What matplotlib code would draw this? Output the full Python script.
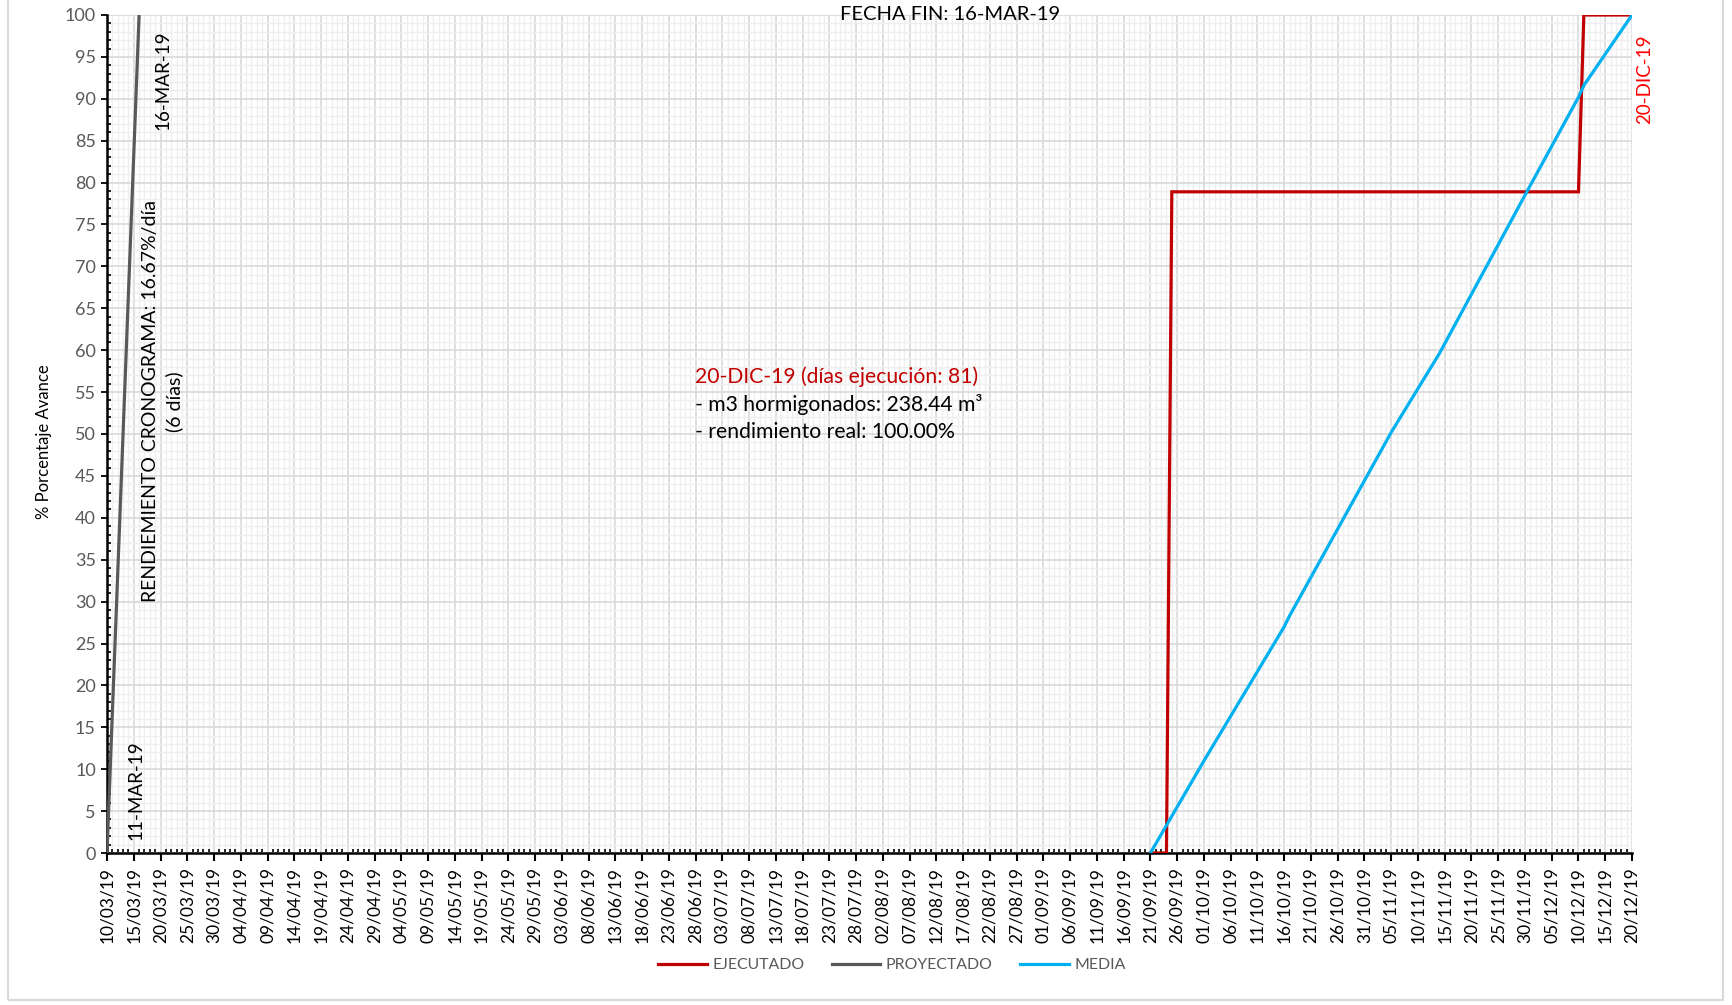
import matplotlib
matplotlib.use("Agg")
import matplotlib.pyplot as plt
import matplotlib.dates as mdates
from matplotlib.patches import Rectangle
from matplotlib.ticker import MultipleLocator
import numpy as np
import datetime as dt

plt.rcParams['font.family'] = ['Lato', 'DejaVu Sans']

# ---- data ----
ejecutado_dates = ['2019-09-21', '2019-09-24', '2019-09-25', '2019-12-10', '2019-12-11', '2019-12-20']
ejecutado_vals = [0, 0, 78.9, 78.9, 100, 100]

proyectado_dates = ['2019-03-10', '2019-03-11', '2019-03-12', '2019-03-13', '2019-03-14', '2019-03-15', '2019-03-16']
proyectado_vals = [0, 16.67, 33.33, 50.0, 66.67, 83.33, 100.0]

media_dates = ['2019-09-21', '2019-10-01', '2019-10-16', '2019-10-17', '2019-11-05', '2019-11-14',
               '2019-11-30', '2019-12-10', '2019-12-11', '2019-12-20']
media_vals = [0, 11.0, 27.0, 28.3, 50.2, 59.6, 78.5, 90.2, 91.6, 100]

start_date = '2019-03-10'
end_date = '2019-12-20'

series_names = ['EJECUTADO', 'PROYECTADO', 'MEDIA']
series_colors = ['#c00000', '#595959', '#00b0f0']


def d(s):
    return mdates.date2num(dt.datetime.strptime(s, '%Y-%m-%d'))


fig = plt.figure(figsize=(17.32, 10.05), dpi=100)
ax = fig.add_axes([107 / 1732, 1 - 853 / 1005, (1632 - 107) / 1732, (853 - 15) / 1005])

# outer border
fig.patches.append(Rectangle((8 / 1732, 5 / 1005), (1723 - 8) / 1732, 1.2, transform=fig.transFigure,
                             fill=False, edgecolor='#d9d9d9', linewidth=1.5, zorder=0))

x0, x1 = d(start_date), d(end_date)
ax.set_xlim(x0, x1)
ax.set_ylim(0, 100)

# grid
ax.set_xticks(np.arange(x0, x1 + 0.5, 5))
ax.xaxis.set_minor_locator(MultipleLocator(1))
ax.yaxis.set_major_locator(MultipleLocator(5))
ax.yaxis.set_minor_locator(MultipleLocator(1))
ax.grid(which='minor', color='#efefef', linewidth=1.0, zorder=0)
ax.grid(which='major', color='#d9d9d9', linewidth=1.2, zorder=0)
ax.set_axisbelow(True)
ax.xaxis.set_major_formatter(mdates.DateFormatter('%d/%m/%y'))

for sp in ['top', 'right']:
    ax.spines[sp].set_visible(False)
for sp in ['left', 'bottom']:
    ax.spines[sp].set_color('black')
    ax.spines[sp].set_linewidth(1.8)

ax.tick_params(axis='x', which='major', direction='out', length=6, width=1.5, color='black',
               labelsize=12.5, labelrotation=90, labelcolor='black', pad=4)
ax.tick_params(axis='x', which='minor', direction='in', length=3, width=1.2, color='black')
ax.tick_params(axis='y', which='major', direction='out', length=4, width=1.3, color='black',
               labelsize=13, labelcolor='#595959', pad=4)
ax.tick_params(axis='y', which='minor', direction='in', length=3, width=1.2, color='black')

# series
ax.plot([d(s) for s in ejecutado_dates], ejecutado_vals, color=series_colors[0], lw=2.3,
        label=series_names[0], zorder=4, solid_joinstyle='miter')
ax.plot([d(s) for s in proyectado_dates], proyectado_vals, color=series_colors[1], lw=2.3,
        label=series_names[1], zorder=3)
ax.plot([d(s) for s in media_dates], media_vals, color=series_colors[2], lw=2.3,
        label=series_names[2], zorder=5)

fig.text(44 / 1732, 1 - 442 / 1005, '% Porcentaje Avance', rotation=90, ha='center', va='center',
         fontsize=12, color='black')

# annotations
ax.text(x0 + 10.5, 92.2, '16-MAR-19', rotation=90, ha='center', va='center', fontsize=13.5, color='black')
ax.text(x0 + 5.4, 7.5, '11-MAR-19', rotation=90, ha='center', va='center', fontsize=13.5, color='black')
ax.text(x0 + 10.4, 53.9, 'RENDIEMIENTO CRONOGRAMA: 16.67%/día\n(6 días)', rotation=90, ha='center',
        va='center', multialignment='center', fontsize=14, color='black', linespacing=1.45)
ax.text(x0 + 157.5, 100.0, 'FECHA FIN: 16-MAR-19', ha='center', va='center', fontsize=14.5, color='black')
ax.text(x0 + 287.3, 92.3, '20-DIC-19', rotation=90, ha='center', va='center', fontsize=13.5,
        color='#ff0000', clip_on=False)

ax.text(x0 + 109.8, 56.8, '20-DIC-19 (días ejecución: 81)', ha='left', va='center', fontsize=15.2, color='#c00000')
ax.text(x0 + 109.8, 53.5, '- m3 hormigonados: 238.44 m³', ha='left', va='center', fontsize=15.2, color='black')
ax.text(x0 + 109.8, 50.2, '- rendimiento real: 100.00%', ha='left', va='center', fontsize=15.2, color='black')

leg = fig.legend(loc='center', bbox_to_anchor=(892 / 1732, 1 - 965 / 1005), ncol=3, frameon=False,
                 fontsize=11.4, handlelength=3.05, columnspacing=1.75, handletextpad=0.35)
for t in leg.get_texts():
    t.set_color('#595959')

fig.savefig('out.png', dpi=100)
